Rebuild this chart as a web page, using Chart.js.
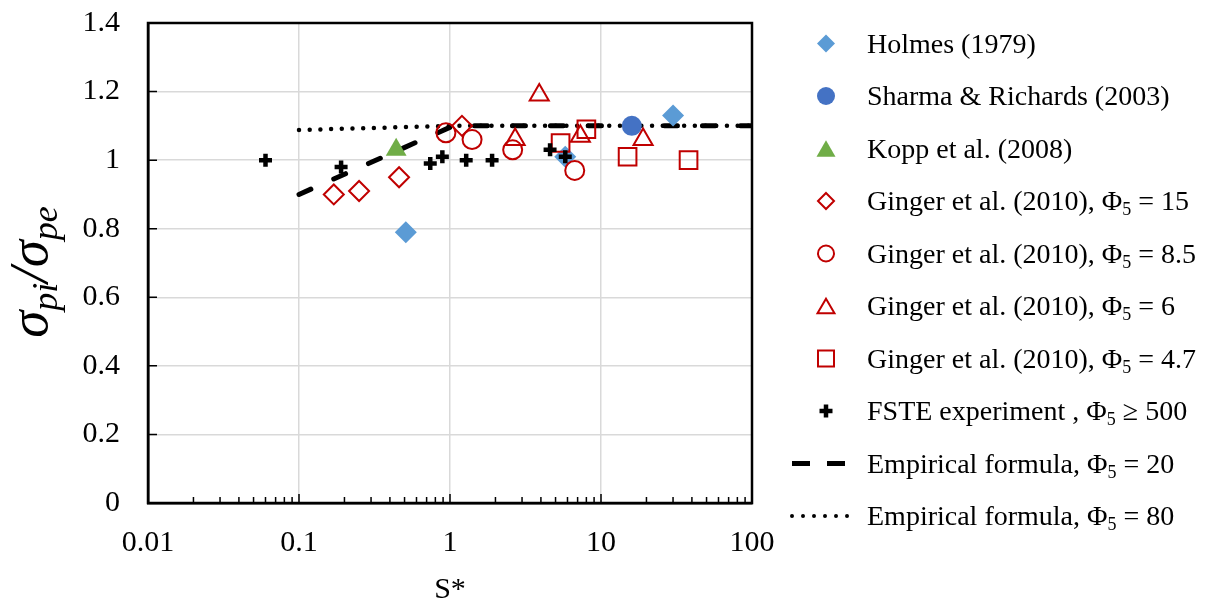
<!DOCTYPE html>
<html>
<head>
<meta charset="utf-8">
<script src="https://cdn.jsdelivr.net/npm/chart.js@4.4.1/dist/chart.umd.min.js"></script>
<style>
  body { margin: 0; background: #fff; }
  #wrap { position: relative; width: 1213px; height: 601px; font-family: "Liberation Serif", "Times New Roman", serif; color: #000; overflow: hidden; }
  #myChart { position: absolute; left: 0; top: 0; }
  #ytitle { position: absolute; left: 28px; top: 272px; transform: translate(-50%, -50%) rotate(-90deg); font-size: 55px; line-height: 1; white-space: nowrap; font-style: italic; }
  #ytitle sub { font-size: 36px; vertical-align: -10px; line-height: 0; }
  #legendMarks { position: absolute; left: 0; top: 0; }
  .row { position: absolute; left: 867px; font-size: 28px; line-height: 28px; white-space: nowrap; }
  .row sub { font-size: 18px; vertical-align: -5px; line-height: 0; }
</style>
</head>
<body>
<div id="wrap">
  <canvas id="myChart" width="1213" height="601"></canvas>
  <div id="ytitle">σ<sub>pi</sub>/σ<sub>pe</sub></div>
  <svg id="legendMarks" width="1213" height="601"></svg>
  <div id="legend"></div>
</div>
<script>
const xTicks = [0.01, 0.1, 1, 10, 100];
const yTicks = [0, 0.2, 0.4, 0.6, 0.8, 1, 1.2, 1.4];

const holmesX = [0.51, 5.8, 30];
const holmesY = [0.79, 1.01, 1.13];
const sharmaX = [16];
const sharmaY = [1.10];
const koppX = [0.44];
const koppY = [1.03];
const ginger15X = [0.17, 0.25, 0.46, 1.2];
const ginger15Y = [0.90, 0.91, 0.95, 1.10];
const ginger85X = [0.94, 1.4, 2.6, 6.7];
const ginger85Y = [1.08, 1.06, 1.03, 0.97];
const ginger6X = [3.9, 2.7, 7.3, 19];
const ginger6Y = [1.19, 1.06, 1.07, 1.06];
const ginger47X = [5.4, 8.0, 15, 38];
const ginger47Y = [1.05, 1.09, 1.01, 1.00];
const fsteX = [0.06, 0.19, 0.74, 0.89, 1.28, 1.9, 4.6, 5.8];
const fsteY = [1.00, 0.98, 0.99, 1.01, 1.00, 1.00, 1.03, 1.01];
const emp20X = [0.1, 1.05, 100];
const emp20Y = [0.9, 1.1, 1.1];
const emp80X = [0.1, 1, 100];
const emp80Y = [1.088, 1.1, 1.1];

const legendLabels = [
    'Holmes (1979)',
    'Sharma &amp; Richards (2003)',
    'Kopp et al. (2008)',
    'Ginger et al. (2010), Φ<sub>5</sub> = 15',
    'Ginger et al. (2010), Φ<sub>5</sub> = 8.5',
    'Ginger et al. (2010), Φ<sub>5</sub> = 6',
    'Ginger et al. (2010), Φ<sub>5</sub> = 4.7',
    'FSTE experiment , Φ<sub>5</sub> ≥ 500',
    'Empirical formula, Φ<sub>5</sub> = 20',
    'Empirical formula, Φ<sub>5</sub> = 80'
];

const red = '#C00000';
const serif = 'Liberation Serif';

function pts(xs, ys) {
    return xs.map(function(x, i) { return { x: x, y: ys[i] }; });
}

const data = {
    datasets: [{
        label: 'Holmes (1979)', data: pts(holmesX, holmesY), order: 8,
        pointStyle: 'rectRot', pointRadius: 11, backgroundColor: '#5B9BD5', borderColor: '#5B9BD5', borderWidth: 0
    }, {
        label: 'Sharma & Richards (2003)', data: pts(sharmaX, sharmaY), order: 7,
        pointStyle: 'circle', pointRadius: 10, backgroundColor: '#4472C4', borderColor: '#4472C4', borderWidth: 0
    }, {
        label: 'Kopp et al. (2008)', data: pts(koppX, koppY), order: 6,
        pointStyle: 'triangle', pointRadius: 12, backgroundColor: '#70AD47', borderColor: '#70AD47', borderWidth: 0
    }, {
        label: 'Ginger 15', data: pts(ginger15X, ginger15Y), order: 5,
        pointStyle: 'rectRot', pointRadius: 10, backgroundColor: 'rgba(0,0,0,0)', borderColor: red, borderWidth: 2
    }, {
        label: 'Ginger 8.5', data: pts(ginger85X, ginger85Y), order: 4,
        pointStyle: 'circle', pointRadius: 9.5, backgroundColor: 'rgba(0,0,0,0)', borderColor: red, borderWidth: 2
    }, {
        label: 'Ginger 6', data: pts(ginger6X, ginger6Y), order: 3,
        pointStyle: 'triangle', pointRadius: 11, backgroundColor: 'rgba(0,0,0,0)', borderColor: red, borderWidth: 2
    }, {
        label: 'Ginger 4.7', data: pts(ginger47X, ginger47Y), order: 2,
        pointStyle: 'rect', pointRadius: 12.5, backgroundColor: 'rgba(0,0,0,0)', borderColor: red, borderWidth: 2
    }, {
        label: 'FSTE', data: pts(fsteX, fsteY), order: 1,
        pointStyle: 'cross', pointRadius: 6.5, backgroundColor: '#000', borderColor: '#000', borderWidth: 4.5
    }, {
        label: 'Emp 20', data: pts(emp20X, emp20Y), order: 10, showLine: true, pointRadius: 0,
        borderColor: '#000', borderWidth: 5, borderDash: [13, 25], borderCapStyle: 'round'
    }, {
        label: 'Emp 80', data: pts(emp80X, emp80Y), order: 9, showLine: true, pointRadius: 0,
        borderColor: '#000', borderWidth: 4.5, borderDash: [0, 10.7], borderCapStyle: 'round'
    }]
};

// frame + inside tick marks
const frame = {
    id: 'frame',
    afterDraw(chart) {
        const ctx = chart.ctx, a = chart.chartArea;
        const x = chart.scales.x, y = chart.scales.y;
        ctx.save();
        ctx.strokeStyle = '#000';
        ctx.lineWidth = 1.5;
        ctx.beginPath();
        for (let d = 0; d < xTicks.length - 1; d++) {
            for (let k = 1; k <= 9; k++) {
                const px = x.getPixelForValue(xTicks[d] * k);
                ctx.moveTo(px, a.bottom);
                ctx.lineTo(px, a.bottom - (k === 1 ? 9 : 6));
            }
        }
        yTicks.forEach(function(v) {
            const py = y.getPixelForValue(v);
            ctx.moveTo(a.left, py);
            ctx.lineTo(a.left + 9, py);
        });
        ctx.stroke();
        ctx.lineWidth = 2.5;
        ctx.strokeRect(a.left, a.top, a.right - a.left, a.bottom - a.top);
        ctx.restore();
    }
};

const config = {
    type: 'scatter',
    data: data,
    plugins: [frame],
    options: {
        responsive: false,
        animation: false,
        layout: { padding: { top: 23, right: 461, left: 0, bottom: 0 } },
        plugins: { legend: { display: false }, tooltip: { enabled: false } },
        scales: {
            x: {
                type: 'logarithmic', min: 0.01, max: 100,
                afterBuildTicks: function(s) { s.ticks = xTicks.map(function(v) { return { value: v }; }); },
                afterFit: function(s) { s.height = 98; s.paddingLeft = 0; s.paddingRight = 0; },
                ticks: {
                    color: '#000', padding: 22, maxRotation: 0, autoSkip: false,
                    font: { family: serif, size: 30 },
                    callback: function(v) { return String(v); }
                },
                grid: { color: '#d9d9d9', lineWidth: 1.5, drawTicks: false },
                border: { color: '#000', width: 2.5 },
                title: { display: true, text: 'S*', color: '#000', font: { family: serif, size: 30, lineHeight: 0.7 }, padding: 0 }
            },
            y: {
                min: 0, max: 1.4,
                afterBuildTicks: function(s) { s.ticks = yTicks.map(function(v) { return { value: v }; }); },
                afterFit: function(s) { s.width = 148; s.paddingTop = 0; s.paddingBottom = 0; },
                ticks: {
                    color: '#000', padding: 28,
                    font: { family: serif, size: 30 },
                    callback: function(v) { return String(+v.toFixed(1)); }
                },
                grid: { color: '#d9d9d9', lineWidth: 1.5, drawTicks: false },
                border: { color: '#000', width: 2.5 }
            }
        }
    }
};

const myChart = new Chart(document.getElementById('myChart'), config);

// legend
const svgNS = 'http://www.w3.org/2000/svg';
const marks = document.getElementById('legendMarks');
const legend = document.getElementById('legend');
const mx = 826;

function el(name, attrs) {
    const e = document.createElementNS(svgNS, name);
    for (const k in attrs) e.setAttribute(k, attrs[k]);
    marks.appendChild(e);
    return e;
}

function diamond(cy, h, fill, stroke) {
    el('polygon', { points: [mx, cy - h, mx + h, cy, mx, cy + h, mx - h, cy].join(' '), fill: fill, stroke: stroke, 'stroke-width': 2 });
}
function triangle(cy, w, fill, stroke) {
    const hh = w * 0.866;
    el('polygon', { points: [mx, cy - hh / 2, mx + w / 2, cy + hh / 2, mx - w / 2, cy + hh / 2].join(' '), fill: fill, stroke: stroke, 'stroke-width': 2 });
}

legendLabels.forEach(function(txt, i) {
    const cy = 43.5 + 52.5 * i;
    const d = document.createElement('div');
    d.className = 'row';
    d.style.top = (cy - 14) + 'px';
    d.innerHTML = txt;
    legend.appendChild(d);
    if (i === 0) diamond(cy, 9, '#5B9BD5', 'none');
    if (i === 1) el('circle', { cx: mx, cy: cy, r: 9, fill: '#4472C4' });
    if (i === 2) triangle(cy, 19, '#70AD47', 'none');
    if (i === 3) diamond(cy, 8, 'none', red);
    if (i === 4) el('circle', { cx: mx, cy: cy, r: 8, fill: 'none', stroke: red, 'stroke-width': 2 });
    if (i === 5) triangle(cy, 17, 'none', red);
    if (i === 6) el('rect', { x: mx - 8, y: cy - 8, width: 16, height: 16, fill: 'none', stroke: red, 'stroke-width': 2 });
    if (i === 7) {
        el('line', { x1: mx - 6.5, y1: cy, x2: mx + 6.5, y2: cy, stroke: '#000', 'stroke-width': 4.5 });
        el('line', { x1: mx, y1: cy - 6.5, x2: mx, y2: cy + 6.5, stroke: '#000', 'stroke-width': 4.5 });
    }
    if (i === 8) el('line', { x1: 792, y1: cy, x2: 848, y2: cy, stroke: '#000', 'stroke-width': 5, 'stroke-dasharray': '18 17' });
    if (i === 9) el('line', { x1: 792, y1: cy, x2: 858, y2: cy, stroke: '#000', 'stroke-width': 4, 'stroke-linecap': 'round', 'stroke-dasharray': '0 11' });
});
</script>
</body>
</html>
